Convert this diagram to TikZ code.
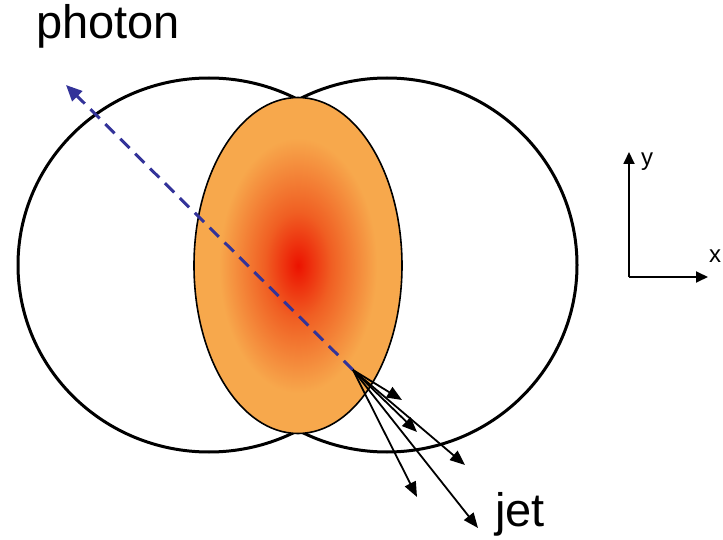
\documentclass[tikz,border=0pt]{standalone}
\usepackage{fontspec}
\setmainfont{Liberation Sans}
\usetikzlibrary{shapes.geometric,arrows.meta}
\definecolor{cRed}{RGB}{236,18,0}
\definecolor{cMid}{RGB}{240,95,35}
\definecolor{cOrange}{RGB}{247,168,76}
\definecolor{cBlue}{RGB}{51,51,153}
\pgfdeclareradialshading{glow}{\pgfpoint{0bp}{0bp}}{color(0bp)=(cRed); color(8bp)=(cMid); color(19bp)=(cOrange); color(50bp)=(cOrange)}
\begin{document}
\begin{tikzpicture}[x=1pt,y=-1pt,
  ring/.style={ellipse, draw=black, line width=3pt, inner sep=0pt},
  lens/.style={ellipse, draw=black, line width=1.6pt, inner sep=0pt, shading=glow},
  jetarrow/.style={draw=black, line width=1.8pt, -{Triangle[length=15pt,width=12pt]}},
  axisarrow/.style={draw=black, line width=1.8pt, -{Triangle[length=12pt,width=11pt]}},
  photonline/.style={draw=cBlue, line width=3pt, dash pattern=on 13pt off 8pt, -{Triangle[length=16pt,width=14pt]}},
  bigtext/.style={inner sep=0pt, font=\fontsize{47}{56}\selectfont},
  smalltext/.style={inner sep=0pt, font=\fontsize{24}{29}\selectfont}]
\useasboundingbox (0,0) rectangle (723,540);
\node[ring, minimum width=382pt, minimum height=374pt] (L) at (209,265) {};
\node[ring, minimum width=380pt, minimum height=374pt] (R) at (387,265) {};
\node[lens, minimum width=208pt, minimum height=336pt] (O) at (298,265.5) {};
\coordinate (v) at (353,370);
\coordinate (ph) at (66,85);
\draw[photonline] (v) -- (ph);
\coordinate (j1) at (402,400);
\coordinate (j2) at (417,432);
\coordinate (j3) at (465,465);
\coordinate (j4) at (417,497);
\coordinate (j5) at (478,528);
\foreach \j in {j1,j2,j3,j4,j5} \draw[jetarrow] (v) -- (\j);
\coordinate (ax) at (629,277);
\coordinate (ay) at (629,152);
\coordinate (axx) at (708,277);
\draw[axisarrow] (ax) -- (ay);
\draw[axisarrow] (ax) -- (axx);
\node[bigtext, anchor=base west] (tphoton) at (36,39) {photon};
\node[bigtext, anchor=base west] (tjet) at (495,526) {jet};
\node[smalltext, anchor=base west] (ty) at (641,166) {y};
\node[smalltext, anchor=base west] (tx) at (709,262) {x};
\end{tikzpicture}
\end{document}
